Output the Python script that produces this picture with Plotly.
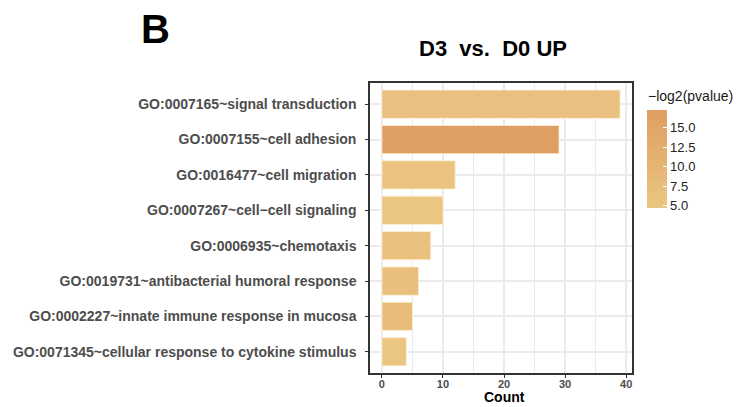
import plotly.graph_objects as go

terms = [
    "GO:0007165~signal transduction",
    "GO:0007155~cell adhesion",
    "GO:0016477~cell migration",
    "GO:0007267~cell\u2212cell signaling",
    "GO:0006935~chemotaxis",
    "GO:0019731~antibacterial humoral response",
    "GO:0002227~innate immune response in mucosa",
    "GO:0071345~cellular response to cytokine stimulus",
]
counts = [39, 29, 12, 10, 8, 6, 5, 4]
neglog2p = [6.5, 17.3, 5.5, 4.7, 6.2, 6.8, 8.0, 5.0]
cbar_ticks = [5.0, 7.5, 10.0, 12.5, 15.0]

FONT = "Liberation Sans, Arial, sans-serif"
L, R, T, B = 370, 112, 83, 34
W, H = 744, 407
pw, ph = W - L - R, H - T - B

fig = go.Figure()
fig.add_trace(go.Bar(
    y=terms, x=counts, orientation="h", width=0.8,
    marker=dict(
        color=neglog2p,
        colorscale=[[0, "#EBC683"], [1, "#DF9E64"]],
        cmin=min(neglog2p), cmax=max(neglog2p),
        line=dict(color="rgba(255,240,215,0.8)", width=1),
        colorbar=dict(
            thickness=20, thicknessmode="pixels",
            len=98, lenmode="pixels",
            x=(647 - L) / pw, xanchor="left", xpad=0, ypad=0,
            y=1 - ((110 + 208) / 2 - T) / ph, yanchor="middle",
            outlinewidth=0,
            tickvals=cbar_ticks, ticktext=[f"{v:.1f}" for v in cbar_ticks],
            ticks="inside", ticklen=4, tickcolor="white", tickwidth=1,
            tickfont=dict(family=FONT, size=13, color="#222"),
        ),
    ),
    showlegend=False,
))

fig.update_layout(
    width=W, height=H,
    margin=dict(l=L, r=R, t=T, b=B, autoexpand=False),
    paper_bgcolor="white", plot_bgcolor="white",
    font=dict(family=FONT),
    xaxis=dict(
        range=[-1.95, 40.95], tickvals=[0, 10, 20, 30, 40],
        showgrid=True, gridcolor="#EBEBEB", gridwidth=1.5,
        minor=dict(tickvals=[5, 15, 25, 35], showgrid=True,
                   gridcolor="#EBEBEB", gridwidth=1),
        ticks="outside", ticklen=3, tickcolor="#333", tickwidth=1,
        ticklabelstandoff=-3,
        tickfont=dict(family=FONT, size=11, color="#4D4D4D", weight="bold"),
        showline=True, linecolor="#333", linewidth=1.5, mirror=True,
        zeroline=False,
    ),
    yaxis=dict(
        categoryorder="array", categoryarray=terms,
        range=[7.6, -0.6],
        showgrid=True, gridcolor="#EBEBEB", gridwidth=1.5,
        ticks="outside", ticklen=3, tickcolor="#333", tickwidth=1,
        ticklabelstandoff=6,
        tickfont=dict(family=FONT, size=14, color="#4D4D4D", weight="bold"),
        showline=True, linecolor="#333", linewidth=1.5, mirror=True,
        zeroline=False,
    ),
    annotations=[
        dict(text="<b>D3  vs.  D0 UP</b>", x=(493 - L) / pw, y=1 + (T - 48) / ph,
             xref="paper", yref="paper", xanchor="center", yanchor="middle",
             showarrow=False, font=dict(family=FONT, size=22, color="black")),
        dict(text="<b>B</b>", x=(139 - L) / pw, y=1 + (T - 29) / ph,
             xref="paper", yref="paper", xanchor="left", yanchor="middle",
             showarrow=False, font=dict(family=FONT, size=40, color="black")),
        dict(text="\u2212log2(pvalue)", x=(646 - L) / pw, y=1 - (96 - T) / ph,
             xref="paper", yref="paper", xanchor="left", yanchor="middle",
             showarrow=False, font=dict(family=FONT, size=14, color="#1a1a1a")),
        dict(text="<b>Count</b>", x=(504 - L) / pw, y=-(397 - (H - B)) / ph,
             xref="paper", yref="paper", xanchor="center", yanchor="middle",
             showarrow=False, font=dict(family=FONT, size=14, color="black")),
    ],
)

fig.write_html("out.html", config={"displayModeBar": False},
               post_script="document.body.style.margin='0px';")
